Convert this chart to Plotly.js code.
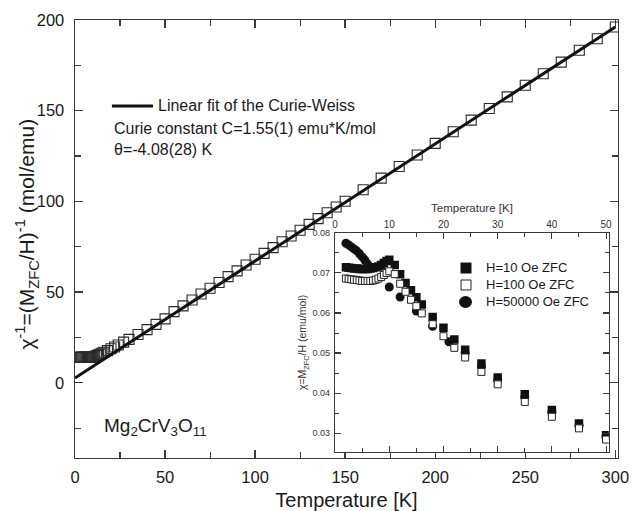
<!DOCTYPE html>
<html>
<head>
<meta charset="utf-8">
<script src="https://cdn.plot.ly/plotly-3.0.1.min.js"></script>
<style>html,body{margin:0;padding:0;background:#fff;}#chart{width:632px;height:511px;}</style>
</head>
<body>
<div id="chart"></div>
<script>
// ---- Main plot: inverse susceptibility vs temperature ----
const mainT = [2, 2.5, 3, 3.5, 4, 4.5, 5, 5.5, 6, 6.5, 7, 7.5, 8, 8.5, 9, 9.5, 10,
  11, 12, 13, 14, 15, 16, 18, 20, 22, 24, 27, 30, 35, 40, 45, 50,
  55, 60, 65, 70, 75, 80, 85, 90, 95, 100, 105, 110, 115, 120, 125, 130, 135, 140, 145,
  150, 160, 170, 180, 190, 200, 210, 220, 230, 240, 250, 260, 270, 280, 290, 300];
const mainInvChi = [14.0, 14.0, 14.0, 14.0, 14.0, 14.0, 14.0, 14.0, 14.0, 14.0, 14.0, 14.0, 14.0, 14.1, 14.1, 14.2, 14.3,
  14.6, 15.0, 15.4, 15.8, 16.4, 16.8, 17.7, 18.7, 19.7, 20.8, 22.4, 23.9, 26.6, 29.3, 32.2, 35.2,
  39.2, 42.4, 45.6, 48.9, 52.1, 55.3, 58.5, 61.7, 64.9, 68.1, 71.3, 74.5, 77.7, 80.9, 84.1, 87.3, 90.5, 93.7, 96.9,
  100.1, 106.4, 112.8, 119.2, 125.6, 132.0, 138.4, 144.8, 151.2, 157.6, 164.0, 170.4, 176.8, 183.3, 189.7, 196.1];
// Curie-Weiss linear fit end points
const fitT = [0, 300];
const fitInvChi = [2.63, 196.2];

// ---- Inset: susceptibility vs temperature ----
const insetT10 = [2, 2.5, 3, 3.5, 4, 4.5, 5, 5.5, 6, 6.5, 7, 7.5, 8, 8.5, 9, 9.5, 10,
  11, 12, 13, 14, 15, 16, 18, 20, 22, 24, 27, 30, 35, 40, 45, 50];
const chi10 = [0.0714, 0.0713, 0.0712, 0.0711, 0.0711, 0.0710, 0.0710, 0.0710, 0.0710, 0.0711, 0.0712, 0.0714, 0.0716, 0.0720, 0.0725, 0.0730, 0.0733,
  0.0720, 0.0697, 0.0675, 0.0657, 0.0639, 0.0621, 0.0590, 0.0563, 0.0534, 0.0508, 0.0474, 0.0439, 0.0397, 0.0358, 0.0324, 0.0295];
const insetT100 = [2, 2.5, 3, 3.5, 4, 4.5, 5, 5.5, 6, 6.5, 7, 7.5, 8, 8.5, 9, 9.5, 10,
  11, 12, 13, 14, 15, 16, 18, 20, 22, 24, 27, 30, 35, 40, 45, 50];
const chi100 = [0.0686, 0.0685, 0.0684, 0.0683, 0.0682, 0.0681, 0.0680, 0.0680, 0.0680, 0.0680, 0.0681, 0.0683, 0.0686, 0.0690, 0.0695, 0.0700, 0.0704,
  0.0697, 0.0673, 0.0653, 0.0633, 0.0617, 0.0599, 0.0572, 0.0542, 0.0513, 0.0489, 0.0453, 0.0422, 0.0378, 0.0341, 0.0312, 0.0284];
const insetT50000 = [2, 2.5, 3, 3.5, 4, 4.5, 5, 5.5, 6, 10, 12, 15, 18, 21, 24, 27, 30, 35, 40, 45, 50];
const chi50000 = [0.0774, 0.0770, 0.0765, 0.0760, 0.0755, 0.0748, 0.0740, 0.0732, 0.0722, 0.0665, 0.0640, 0.0605, 0.0567, 0.0528, 0.0500, 0.0466, 0.0433, 0.0390, 0.0353, 0.0320, 0.0292];

const seriesNames = ['H=10 Oe ZFC', 'H=100 Oe ZFC', 'H=50000 Oe ZFC'];
const mainXTicks = [0, 50, 100, 150, 200, 250, 300];
const mainYTicks = [0, 50, 100, 150, 200];
const insetXTicks = [0, 10, 20, 30, 40, 50];
const insetYTicks = [0.03, 0.04, 0.05, 0.06, 0.07, 0.08];

const FONT = 'Arial, "Liberation Sans", sans-serif';
const INK = '#1a1a1a';
const AX = '#3a3a3a';

const traces = [
  {x: mainT, y: mainInvChi, type: 'scatter', mode: 'markers', xaxis: 'x', yaxis: 'y', showlegend: false,
   marker: {symbol: 'square-open', size: 10, color: '#2a2a2a', line: {width: 1.1}}},
  {x: fitT, y: fitInvChi, type: 'scatter', mode: 'lines', xaxis: 'x', yaxis: 'y', showlegend: false,
   line: {color: '#111', width: 3}},
  {x: insetT10, y: chi10, type: 'scatter', mode: 'markers', xaxis: 'x2', yaxis: 'y2', name: seriesNames[0], showlegend: false,
   marker: {symbol: 'square', size: 8.5, color: '#111', line: {width: 0}}},
  {x: insetT50000, y: chi50000, type: 'scatter', mode: 'markers', xaxis: 'x2', yaxis: 'y2', name: seriesNames[2], showlegend: false,
   marker: {symbol: 'circle', size: 9, color: '#111', line: {width: 0}}},
  {x: insetT100, y: chi100, type: 'scatter', mode: 'markers', xaxis: 'x2', yaxis: 'y2', name: seriesNames[1], showlegend: false,
   marker: {symbol: 'square', size: 7, color: '#fff', line: {width: 1, color: '#222'}}}
];

const axCommon = {showline: true, linecolor: AX, linewidth: 1.4, mirror: 'ticks', ticks: 'inside',
  tickcolor: AX, showgrid: false, zeroline: false};

// inset legend geometry (paper coords)
const legX0 = 0.7099, legTextX = 0.7532;
const legRows = [0.4338, 0.3950, 0.3562];

const layout = {
  width: 632, height: 511,
  margin: {l: 75, r: 14, t: 20, b: 53},
  paper_bgcolor: '#fff', plot_bgcolor: '#fff',
  font: {family: FONT, color: INK},
  showlegend: false,
  xaxis: Object.assign({}, axCommon, {range: [0, 301.5], tickmode: 'array', tickvals: mainXTicks,
    ticklen: 8, tickwidth: 1.3, tickfont: {size: 16.5, color: INK}, ticklabelstandoff: 4,
    minor: {ticks: 'inside', dtick: 25, tick0: 0, ticklen: 6, tickcolor: AX, tickwidth: 1.1},
    title: {text: 'Temperature [K]', font: {size: 20, color: INK}, standoff: 8}}),
  yaxis: Object.assign({}, axCommon, {range: [-41.5, 200], tickmode: 'array', tickvals: mainYTicks,
    ticklen: 8, tickwidth: 1.3, tickfont: {size: 16.5, color: INK}, ticklabelstandoff: 6,
    minor: {ticks: 'inside', dtick: 25, tick0: 0, ticklen: 6, tickcolor: AX, tickwidth: 1.1}}),
  xaxis2: Object.assign({}, axCommon, {domain: [0.479, 0.983], anchor: 'y2', side: 'top', range: [0, 50.5],
    tickmode: 'array', tickvals: insetXTicks, ticklen: 6, tickwidth: 1.1, tickfont: {size: 10, color: '#333'},
    ticklabelstandoff: 0, linewidth: 1.3,
    minor: {ticks: 'inside', dtick: 5, tick0: 0, ticklen: 4, tickcolor: AX, tickwidth: 1},
    title: {text: 'Temperature [K]', font: {size: 11.5, color: '#333'}, standoff: 3}}),
  yaxis2: Object.assign({}, axCommon, {domain: [0.0137, 0.514], anchor: 'x2', range: [0.0253, 0.08],
    tickmode: 'array', tickvals: insetYTicks, tickformat: '.2f', ticklen: 6, tickwidth: 1.1,
    tickfont: {size: 9, color: '#333'}, ticklabelstandoff: 2, linewidth: 1.3,
    minor: {ticks: 'inside', dtick: 0.005, tick0: 0, ticklen: 4, tickcolor: AX, tickwidth: 1},
    title: {text: 'χ=M<sub>ZFC</sub>/H (emu/mol)', font: {size: 10.5, color: '#333'}, standoff: 3}}),
  shapes: [
    {type: 'line', xref: 'paper', yref: 'paper', x0: 0.068, x1: 0.1436, y0: 0.8037, y1: 0.8037,
     line: {color: '#111', width: 3}},
    // inset legend symbols
    {type: 'rect', xref: 'paper', yref: 'paper', x0: 0.7099, x1: 0.7302, y0: 0.4212, y1: 0.4463,
     fillcolor: '#111', line: {width: 0}},
    {type: 'rect', xref: 'paper', yref: 'paper', x0: 0.7109, x1: 0.7293, y0: 0.3836, y1: 0.4064,
     fillcolor: '#fff', line: {width: 1, color: '#222'}},
    {type: 'circle', xref: 'paper', yref: 'paper', x0: 0.7072, x1: 0.7311, y0: 0.3425, y1: 0.3699,
     fillcolor: '#111', line: {width: 0}}
  ],
  annotations: [
    {xref: 'paper', yref: 'paper', x: 0.1492, y: 0.8037, xanchor: 'left', yanchor: 'middle', showarrow: false,
     text: 'Linear fit of the Curie-Weiss', font: {size: 16, color: INK}},
    {xref: 'paper', yref: 'paper', x: 0.0681, y: 0.7534, xanchor: 'left', yanchor: 'middle', showarrow: false,
     text: 'Curie constant C=1.55(1) emu*K/mol', font: {size: 16, color: INK}},
    {xref: 'paper', yref: 'paper', x: 0.0681, y: 0.7032, xanchor: 'left', yanchor: 'middle', showarrow: false,
     text: 'θ=-4.08(28) K', font: {size: 16, color: INK}},
    {xref: 'paper', yref: 'paper', x: 0.0497, y: 0.07, xanchor: 'left', yanchor: 'middle', showarrow: false,
     text: 'Mg<sub>2</sub>CrV<sub>3</sub>O<sub>11</sub>', font: {size: 19, color: INK}},
    {xref: 'paper', yref: 'paper', x: 0, y: 0.51, xshift: -48, xanchor: 'center', yanchor: 'middle', showarrow: false,
     textangle: -90, text: 'χ<sup>-1</sup>=(M<sub>ZFC</sub>/H)<sup>-1</sup> (mol/emu)', font: {size: 21, color: INK}},
    {xref: 'paper', yref: 'paper', x: legTextX, y: legRows[0], xanchor: 'left', yanchor: 'middle', showarrow: false,
     text: seriesNames[0], font: {size: 13, color: INK}},
    {xref: 'paper', yref: 'paper', x: legTextX, y: legRows[1], xanchor: 'left', yanchor: 'middle', showarrow: false,
     text: seriesNames[1], font: {size: 13, color: INK}},
    {xref: 'paper', yref: 'paper', x: legTextX, y: legRows[2], xanchor: 'left', yanchor: 'middle', showarrow: false,
     text: seriesNames[2], font: {size: 13, color: INK}}
  ]
};

Plotly.newPlot('chart', traces, layout, {displayModeBar: false, staticPlot: true});
</script>
</body>
</html>
